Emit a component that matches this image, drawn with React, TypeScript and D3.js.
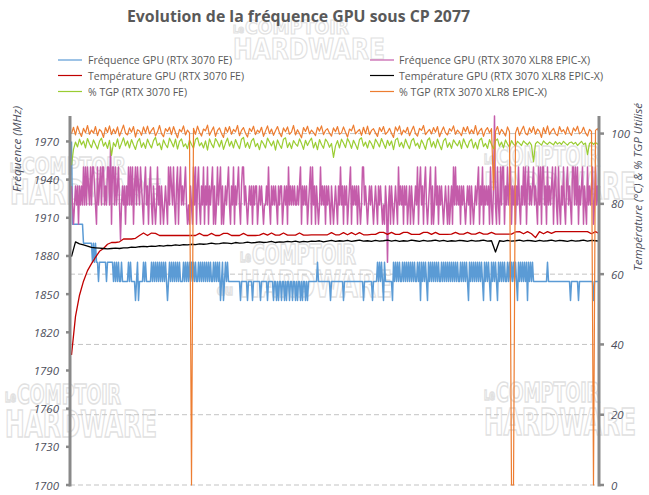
import React from "react";
import * as d3 from "d3";

const chartTitle = "Evolution de la fréquence GPU sous CP 2077";
const leftTitle = "Fréquence (MHz)";
const rightTitle = "Température (°C) & % TGP Utilisé";
const freqTicks = [1700, 1730, 1760, 1790, 1820, 1850, 1880, 1910, 1940, 1970];
const pctTicks = [0, 20, 40, 60, 80, 100];
const legendLabels = [
  "Fréquence GPU (RTX 3070 FE)",
  "Fréquence GPU (RTX 3070 XLR8 EPIC-X)",
  "Température GPU (RTX 3070 FE)",
  "Température GPU (RTX 3070 XLR8 EPIC-X)",
  "% TGP (RTX 3070 FE)",
  "% TGP (RTX 3070 XLR8 EPIC-X)",
];

// Fréquence GPU RTX 3070 FE (MHz), one sample per pixel column
const freqFE = [
  1970,1905,1905,1905,1905,1905,1905,1905,1905,1905,1905,1905,1890,1890,1890,1890,1890,1890,1890,1890,
  1890,1875,1890,1875,1890,1875,1875,1860,1875,1875,1875,1875,1875,1875,1875,1860,1875,1875,1875,1875,
  1875,1875,1860,1875,1860,1875,1860,1875,1860,1860,1875,1860,1860,1860,1860,1860,1860,1875,1860,1875,
  1860,1860,1860,1860,1845,1860,1875,1845,1860,1860,1860,1860,1875,1860,1875,1860,1860,1860,1860,1860,
  1875,1860,1875,1860,1875,1860,1875,1860,1875,1860,1875,1860,1875,1860,1875,1860,1845,1860,1875,1860,
  1875,1860,1875,1860,1875,1860,1875,1860,1875,1860,1860,1860,1875,1860,1875,1860,1875,1860,1875,1860,
  1875,1860,1875,1860,1875,1860,1860,1875,1860,1875,1860,1875,1860,1875,1860,1875,1860,1875,1860,1875,
  1860,1860,1875,1860,1875,1860,1875,1860,1875,1845,1860,1875,1845,1860,1875,1860,1875,1860,1860,1860,
  1860,1860,1860,1860,1860,1860,1860,1860,1860,1845,1860,1860,1860,1860,1860,1860,1845,1860,1860,1860,
  1860,1845,1860,1860,1860,1860,1860,1860,1860,1845,1860,1860,1860,1860,1860,1860,1845,1860,1860,1860,
  1860,1860,1845,1860,1860,1845,1860,1845,1860,1860,1845,1860,1860,1845,1860,1845,1860,1860,1845,1860,
  1860,1845,1860,1860,1845,1860,1845,1860,1860,1845,1860,1845,1860,1860,1845,1860,1845,1860,1860,1860,
  1860,1860,1860,1860,1860,1860,1875,1860,1860,1860,1860,1860,1860,1860,1860,1860,1860,1860,1860,1845,
  1860,1860,1860,1860,1860,1860,1860,1860,1860,1860,1860,1860,1845,1860,1860,1860,1860,1860,1860,1860,
  1860,1860,1860,1860,1860,1860,1860,1860,1860,1860,1860,1860,1845,1860,1860,1860,1860,1860,1860,1860,
  1860,1845,1860,1860,1860,1860,1875,1860,1875,1860,1875,1860,1845,1875,1860,1860,1860,1860,1860,1860,
  1860,1845,1875,1860,1875,1860,1875,1860,1875,1860,1860,1875,1860,1875,1860,1875,1860,1875,1860,1875,
  1860,1875,1860,1875,1860,1860,1875,1860,1875,1845,1875,1860,1875,1860,1875,1860,1845,1875,1860,1875,
  1860,1875,1860,1875,1860,1875,1860,1875,1860,1860,1875,1860,1875,1860,1875,1860,1875,1860,1875,1860,
  1875,1860,1875,1860,1875,1860,1875,1860,1860,1875,1860,1875,1860,1875,1860,1875,1860,1845,1875,1860,
  1875,1860,1875,1860,1875,1860,1875,1860,1875,1860,1875,1860,1845,1875,1860,1875,1860,1875,1860,1845,
  1875,1860,1875,1860,1875,1860,1845,1875,1860,1875,1860,1875,1860,1875,1860,1860,1875,1860,1875,1860,
  1875,1860,1875,1860,1875,1860,1845,1875,1860,1875,1860,1875,1860,1875,1860,1875,1845,1875,1860,1875,
  1860,1875,1860,1860,1860,1860,1860,1860,1860,1860,1860,1860,1860,1860,1860,1860,1875,1860,1860,1860,
  1860,1860,1860,1860,1860,1860,1860,1860,1860,1860,1860,1860,1860,1860,1860,1860,1860,1860,1860,1845,
  1860,1860,1860,1860,1860,1860,1860,1845,1860,1860,1860,1860,1860,1860,1860,1860,1860,1860,1860,1860,
  1860,1860,1845,1860,1860,1860,1860,1860,1860,
];

// Fréquence GPU RTX 3070 XLR8 EPIC-X (MHz), one sample per pixel column
const freqXLR8 = [
  1935,1920,1905,1920,1935,1920,1935,1905,1935,1920,1935,1920,1950,1920,1950,1920,1950,1935,1920,1950,
  1920,1950,1950,1935,1920,1905,1950,1920,1935,1950,1920,1950,1950,1920,1935,1920,1950,1950,1920,1965,
  1905,1950,1950,1920,1950,1920,1935,1950,1920,1893,1920,1935,1920,1935,1905,1935,1920,1950,1920,1950,
  1920,1950,1905,1935,1950,1920,1950,1935,1920,1950,1935,1920,1905,1935,1950,1920,1935,1905,1935,1950,
  1920,1905,1935,1920,1905,1920,1950,1920,1935,1905,1935,1920,1905,1920,1935,1920,1905,1950,1920,1950,
  1935,1920,1950,1920,1905,1935,1950,1905,1935,1950,1920,1935,1920,1935,1950,1920,1905,1920,1905,1935,
  1920,1905,1950,1920,1950,1905,1935,1950,1920,1905,1935,1920,1950,1905,1935,1920,1950,1905,1935,1920,
  1935,1950,1905,1935,1905,1920,1950,1920,1935,1950,1905,1935,1905,1920,1935,1920,1935,1950,1920,1905,
  1935,1920,1950,1905,1935,1920,1935,1950,1920,1905,1935,1950,1950,1920,1935,1920,1905,1920,1935,1920,
  1935,1905,1935,1920,1935,1935,1905,1920,1935,1920,1935,1920,1905,1920,1920,1935,1920,1950,1920,1905,
  1935,1920,1935,1920,1935,1920,1905,1935,1920,1935,1935,1905,1920,1935,1920,1935,1905,1950,1920,1935,
  1920,1935,1920,1935,1920,1920,1935,1920,1935,1950,1905,1935,1920,1935,1920,1935,1905,1920,1935,1950,
  1905,1950,1920,1935,1905,1935,1920,1905,1920,1950,1920,1935,1920,1935,1905,1935,1920,1935,1920,1905,
  1935,1920,1905,1920,1935,1920,1905,1935,1920,1950,1920,1935,1905,1935,1920,1935,1905,1920,1935,1950,
  1905,1935,1920,1935,1920,1935,1905,1935,1920,1905,1920,1950,1950,1920,1935,1920,1905,1920,1935,1920,
  1935,1920,1905,1920,1935,1920,1905,1935,1920,1935,1920,1905,1920,1905,1935,1920,1875,1920,1935,1905,
  1935,1920,1905,1920,1935,1920,1905,1950,1920,1935,1920,1935,1905,1935,1920,1935,1905,1920,1935,1905,
  1935,1920,1905,1920,1935,1920,1950,1905,1935,1950,1920,1935,1905,1935,1950,1920,1905,1920,1935,1950,
  1905,1935,1905,1920,1950,1920,1935,1905,1935,1920,1935,1920,1905,1920,1935,1920,1905,1935,1905,1920,
  1935,1905,1950,1920,1950,1920,1935,1920,1935,1905,1935,1920,1935,1920,1905,1920,1935,1920,1935,1905,
  1935,1920,1905,1920,1935,1920,1935,1950,1905,1935,1920,1950,1905,1935,1920,1935,1920,1935,1905,1950,
  1920,1905,1935,1990,1920,1905,1950,1920,1905,1950,1920,1950,1950,1905,1935,1920,1950,1920,1935,1950,
  1905,1935,1920,1935,1905,1935,1920,1950,1920,1905,1935,1920,1950,1920,1950,1905,1935,1950,1920,1935,
  1920,1935,1950,1920,1935,1920,1905,1950,1920,1950,1905,1950,1950,1920,1935,1905,1950,1920,1935,1920,
  1935,1950,1905,1935,1950,1920,1905,1950,1920,1905,1935,1920,1950,1920,1905,1935,1950,1920,1935,1920,
  1905,1950,1950,1920,1950,1920,1950,1905,1935,1920,1935,1950,1905,1935,1920,1905,1950,1920,1935,1920,
  1935,1950,1905,1920,1950,1920,1935,1920,1935,
];

// Température GPU RTX 3070 FE (°C)
const tempFE = [
  37,48,54,58,61,63,64.8,66.5,67.3,68.5,69,69,69.2,70,70,70,70.2,
  71,71.7,71.0,71.7,71.6,71,71,71,71,71,71,71,71,
  71,71,71.6,71,71,71.6,71,71,71.6,71.6,71,71,71,71.6,71,71,71,71.1,71.6,71.1,
  71.7,71.1,71.1,71.7,71.1,71.1,71.1,71.7,71.1,71.1,71.2,71.2,71.2,71.2,71.2,71.8,71.2,71.2,71.8,71.2,
  71.8,71.2,71.8,71.2,71.2,71.3,71.3,71.9,71.9,71.3,71.9,71.3,71.3,71.9,71.9,71.3,71.3,71.3,71.9,71.9,
  71.3,71.9,71.3,71.3,71.3,71.4,71.9,71.4,71.4,71.9,71.4,71.4,71.9,71.4,71.4,71.9,71.4,71.4,71.4,71.4,71.4,72.0,
  72.1,71.5,72.1,71.5,70.4,72.1,71.5,72.1,71.6,72.1,72.1,72.1,72.1,72.1,72.1,72.1,72.1,72.1,71.5,72.1,71.5,
];

// Température GPU RTX 3070 XLR8 EPIC-X (°C)
const tempXLR8 = [
  65,69.2,68.6,68.3,68.0,67.6,67.5,67.4,67.3,67.2,67.3,67.4,67.3,67.5,67.5,67.7,67.6,67.8,67.9,67.8,
  68.0,67.9,68.1,68.0,68.2,68.1,68.3,68.2,68.4,68.3,68.5,68.4,68.6,68.5,68.6,68.8,68.6,68.7,68.9,68.8,
  68.7,69.0,68.8,68.9,69.1,68.9,69.0,69.2,69.0,69.1,69.3,69.0,69.2,69.1,69.3,69.2,69.4,69.1,69.3,69.2,
  69.4,69.3,69.5,69.2,69.4,69.6,69.3,69.5,69.4,69.6,69.3,69.5,69.7,69.4,69.5,69.3,69.6,69.4,69.5,69.7,
  69.4,69.6,69.3,69.5,69.4,69.7,69.5,69.3,69.6,69.4,69.5,69.7,69.4,69.6,69.3,69.5,69.4,69.6,69.5,69.3,
  69.6,69.4,69.5,69.7,69.4,69.5,66.3,69.5,69.3,69.6,69.4,69.5,69.7,69.4,69.6,69.5,69.3,69.6,69.4,69.5,
  69.7,69.4,69.6,69.5,69.3,69.6,69.4,69.5,69.7,69.4,69.6,69.5,69.4,
];

// % TGP RTX 3070 FE
const tgpFE = [
  91.0,95.5,97.6,96.2,98.4,96.8,97.9,95.9,98.6,97.1,
  96.0,98.2,96.9,95.6,97.8,98.7,96.4,97.5,95.8,98.1,
  93.8,97.4,96.3,98.5,95.7,97.2,98.8,96.5,97.9,95.9,
  98.3,96.8,95.5,97.7,98.6,96.1,97.4,95.8,98.4,97.0,
  95.9,98.0,98.9,96.6,97.3,95.4,98.2,96.9,96.0,98.7,
  97.5,96.2,98.4,95.6,97.8,98.5,96.3,97.1,95.7,98.2,
  96.9,95.8,98.3,98.8,96.5,97.4,95.9,97.9,95.3,98.5,
  97.0,96.0,98.6,97.6,96.2,98.1,95.5,97.3,98.7,96.4,
  97.8,95.9,98.3,96.9,95.7,98.4,98.9,96.1,97.5,95.8,
  97.9,98.6,96.3,97.2,95.4,98.0,97.1,95.9,98.7,97.6,
  96.5,97.9,95.3,98.2,96.8,95.8,98.4,98.8,96.0,97.4,
  95.7,98.0,97.1,96.4,98.5,97.2,95.5,98.1,96.6,97.8,
  98.7,95.9,97.5,95.4,98.3,96.9,95.8,98.4,97.6,96.1,
  97.2,93.2,96.5,98.0,95.9,98.4,97.3,96.0,98.6,97.5,
  95.8,98.1,96.9,95.5,98.3,98.8,96.4,97.6,95.9,98.0,
  97.1,95.7,98.4,97.4,96.2,98.6,97.2,95.8,98.1,96.6,
  97.9,95.4,98.2,98.7,96.3,97.5,95.9,98.4,96.9,95.7,
  98.0,98.6,96.5,97.3,95.8,98.2,97.0,95.5,98.1,98.8,
  96.2,97.7,95.9,98.4,96.8,95.4,97.9,98.6,96.1,97.4,
  95.8,98.2,97.3,96.5,98.0,95.7,98.5,97.1,96.0,97.8,
  98.4,95.9,97.5,95.6,98.1,98.7,96.3,97.2,95.8,98.3,
  96.9,95.7,97.9,98.5,96.4,97.6,95.9,98.2,97.0,96.1,
  98.0,97.0,96.5,97.8,97.2,96.6,97.9,97.3,96.8,97.6,
  96.7,92.0,97.1,97.7,97.2,96.7,97.9,97.3,96.9,97.6,
  97.2,96.8,97.7,97.0,97.5,96.9,97.8,97.2,96.7,97.4,
  97.6,97.0,97.5,96.6,97.2,97.8,96.9,97.3,94.0,97.2,
  97.6,96.9,97.5,97.0,97.3,
];

// % TGP RTX 3070 XLR8 EPIC-X
const tgpXLR8 = [
  100.0,101.8,99.6,102.1,100.4,99.2,101.5,100.2,102.3,99.8,
  101.0,100.1,102.0,99.4,101.2,100.6,98.9,101.7,100.3,102.2,
  99.7,101.3,100.0,101.9,99.3,100.8,102.4,100.1,99.6,101.6,
  100.4,102.0,99.0,101.1,100.7,99.5,101.9,100.2,102.1,99.9,
  100.9,101.7,99.3,100.5,102.3,100.0,99.1,101.4,100.6,101.8,
  99.7,102.0,100.3,98.8,101.2,100.5,102.2,99.6,101.0,100.2,
  0,101.5,99.8,102.1,100.4,99.3,101.3,100.8,102.4,99.5,
  100.7,101.9,99.2,100.9,101.6,100.0,98.9,101.8,100.4,102.0,
  99.8,101.2,100.5,102.3,99.4,100.9,101.7,100.1,99.0,101.5,
  100.6,102.1,99.7,101.0,100.3,101.8,99.2,100.7,102.2,100.0,
  101.3,99.5,100.8,102.0,100.2,99.1,101.6,100.5,101.9,99.8,
  100.4,102.3,99.6,101.1,100.0,98.8,101.7,100.6,102.1,99.9,
  101.0,100.3,99.4,101.8,100.7,102.2,99.7,100.9,101.4,100.1,
  99.3,101.6,100.5,102.0,99.8,100.2,101.9,100.4,99.0,101.3,
  100.8,102.4,99.9,100.6,101.2,99.5,101.8,100.0,102.1,99.7,
  100.9,101.4,100.2,99.2,101.7,100.6,102.0,99.8,100.4,101.5,
  100.1,98.9,101.9,100.7,102.2,99.6,101.0,100.3,101.8,99.4,
  100.8,102.1,100.0,99.3,101.5,100.9,102.3,99.7,100.5,101.2,
  99.9,101.7,100.4,102.0,99.1,100.6,101.9,100.2,99.6,101.4,
  100.7,102.2,99.8,101.0,100.3,99.4,101.8,100.5,102.0,99.9,
  101.1,100.0,102.3,99.6,100.8,101.5,99.2,100.9,101.7,100.2,
  101.4,84,100.6,102.0,99.7,101.2,100.4,99.3,101.9,100.5,
  0,0,100.2,101.8,99.5,100.9,102.1,100.0,99.6,101.6,
  100.3,102.0,99.8,101.3,100.6,98.9,101.7,100.1,102.2,99.7,
  100.8,101.5,100.0,99.4,102.0,100.5,101.1,99.8,101.9,100.3,
  99.5,101.6,100.7,102.1,99.9,100.4,101.8,100.2,99.3,101.2,
  100.6,0,100.9,101.4,100.1,
];

// watermark positions: [x, y, vertical scale, show "du"]
const watermarkSpots: [number, number, number, boolean][] = [
  [233, 20, 0.75, false],
  [10, 157, 0.9, false],
  [240, 245, 1, true],
  [484, 147, 1, false],
  [5, 385, 1, false],
  [484, 383, 1, false],
];

function Watermark({ x, y, sy, du }: { x: number; y: number; sy: number; du: boolean }) {
  const k = 1.38;
  const common = {
    fill: "none",
    stroke: "#e1e1e1",
    strokeWidth: 1.1,
    fontFamily: "'DejaVu Sans Condensed','DejaVu Sans',sans-serif",
    fontWeight: 700,
    lengthAdjust: "spacingAndGlyphs" as any,
  };
  return (
    <g transform={`translate(${x},${y}) scale(1,${sy * k})`}>
      <text {...common} x={0} y={17 / k} fontSize={10} textLength={11}>Le</text>
      <text {...common} x={12} y={19 / k} fontSize={19} textLength={104}>COMPTOIR</text>
      {du && (
        <text {...common} x={-23} y={50 / k} fontSize={10} textLength={16}>du</text>
      )}
      <text {...common} x={0} y={52 / k} fontSize={27} textLength={152}>HARDWARE</text>
    </g>
  );
}

export default function App() {
  const W = 649;
  const H = 495;
  const xStart = 71.5;
  const xEnd = 599.5;
  const yTop = 116;
  const yBottom = 485;
  const yF = d3.scaleLinear().domain([1700, 1990]).range([yBottom, yTop]);
  const yP = d3.scaleLinear().domain([0, 105]).range([yBottom, yTop]);

  const makePath = (arr: number[], y: any) => {
    const x = d3.scaleLinear().domain([0, arr.length - 1]).range([xStart, xEnd]);
    return d3
      .line<number>()
      .x((_, i) => x(i))
      .y((d) => y(d))(arr) as string;
  };

  const series = [
    { data: freqFE, y: yF, color: "#5B9BD5", w: 1.5 },
    { data: freqXLR8, y: yF, color: "#C45CAA", w: 1.5 },
    { data: tempFE, y: yP, color: "#C00000", w: 1.3 },
    { data: tempXLR8, y: yP, color: "#000000", w: 1.3 },
    { data: tgpFE, y: yP, color: "#9ACD32", w: 1.2 },
    { data: tgpXLR8, y: yP, color: "#ED7D31", w: 1.2 },
  ];

  const axisColor = "#898989";
  const labelColor = "#4d4f5c";
  const font = "'Open Sans','Noto Sans',sans-serif";
  const legendCols = [
    { lx: 58, tx: 88 },
    { lx: 370, tx: 399 },
  ];
  const legendRows = [60, 75.5, 91.5];
  const legendWidths = [144, 191, 156, 204, 99, 148];

  return (
    <svg
      width={W}
      height={H}
      viewBox={`0 0 ${W} ${H}`}
      style={{ position: "absolute", left: 0, top: 0, background: "#fff" }}
    >
      <rect x={0} y={0} width={W} height={H} fill="#fff" />
      {watermarkSpots.map(([x, y, sy, du], i) => (
        <Watermark key={i} x={x} y={y} sy={sy} du={du} />
      ))}

      {pctTicks.map((t) => (
        <line
          key={t}
          x1={70}
          x2={599}
          y1={yP(t)}
          y2={yP(t)}
          stroke="#c3c3c3"
          strokeWidth={1}
          strokeDasharray="5,3"
        />
      ))}

      {series.map((s, i) => (
        <path
          key={i}
          d={makePath(s.data, s.y)}
          fill="none"
          stroke={s.color}
          strokeWidth={s.w}
          strokeLinejoin="round"
        />
      ))}

      <line x1={70} x2={70} y1={yTop} y2={yBottom + 1.5} stroke={axisColor} strokeWidth={3} />
      <line x1={599} x2={599} y1={yTop} y2={yBottom + 1.5} stroke={axisColor} strokeWidth={3} />
      {freqTicks.map((t) => (
        <g key={t}>
          <rect x={66} y={yF(t) - 1.25} width={4} height={2.5} fill={axisColor} />
          <text
            x={59}
            y={yF(t) + 4.5}
            textAnchor="end"
            fontFamily={font}
            fontStyle="italic"
            fontSize={11.5}
            fill={labelColor}
          >
            {t}
          </text>
        </g>
      ))}
      {pctTicks.map((t) => (
        <g key={t}>
          <rect x={600} y={yP(t) - 1.25} width={4} height={2.5} fill={axisColor} />
          <text
            x={611}
            y={yP(t) + 4.5}
            textAnchor="start"
            fontFamily={font}
            fontStyle="italic"
            fontSize={11.5}
            fill={labelColor}
          >
            {t}
          </text>
        </g>
      ))}

      <text
        transform="translate(20.5,192) rotate(-90)"
        fontFamily={font}
        fontStyle="italic"
        fontSize={11.5}
        fill={labelColor}
        textLength={86}
        lengthAdjust="spacingAndGlyphs"
      >
        {leftTitle}
      </text>
      <text
        transform="translate(641.5,271) rotate(-90)"
        fontFamily={font}
        fontStyle="italic"
        fontSize={11.5}
        fill={labelColor}
        textLength={168}
        lengthAdjust="spacingAndGlyphs"
      >
        {rightTitle}
      </text>

      <text
        x={127}
        y={22}
        fontFamily={font}
        fontWeight={700}
        fontSize={16}
        fill="#595959"
        textLength={343}
        lengthAdjust="spacingAndGlyphs"
      >
        {chartTitle}
      </text>

      {legendLabels.map((label, i) => {
        const col = legendCols[i % 2];
        const y = legendRows[Math.floor(i / 2)];
        return (
          <g key={label}>
            <line
              x1={col.lx}
              x2={col.lx + 24}
              y1={y}
              y2={y}
              stroke={series[i].color}
              strokeWidth={1.2}
            />
            <text
              x={col.tx}
              y={y + 4}
              fontFamily={font}
              fontSize={11.5}
              fill="#595959"
              textLength={legendWidths[i]}
              lengthAdjust="spacingAndGlyphs"
            >
              {label}
            </text>
          </g>
        );
      })}
    </svg>
  );
}
